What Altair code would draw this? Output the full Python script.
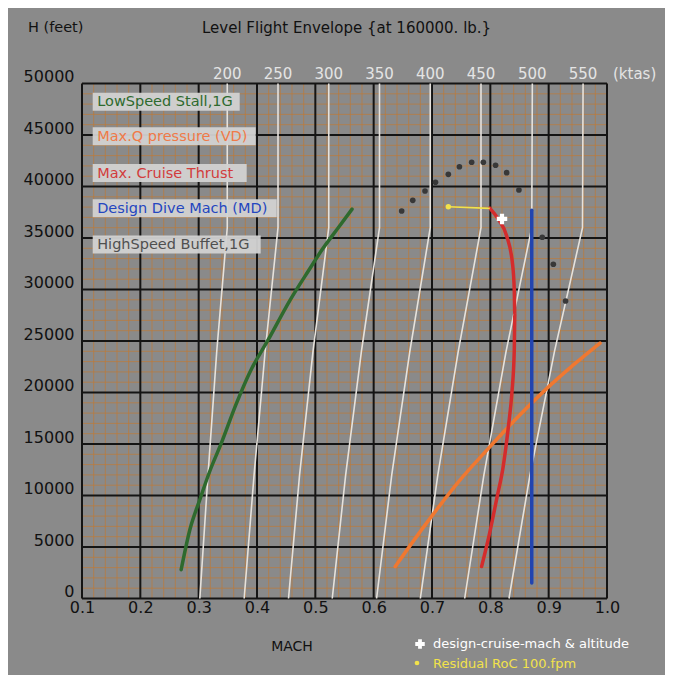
import altair as alt
import pandas as pd

# ---------------- data ----------------
title_text = "Level Flight Envelope {at 160000. lb.}"
y_title_text = "H (feet)"
x_title_text = "MACH"

mach_ticks = [0.1, 0.2, 0.3, 0.4, 0.5, 0.6, 0.7, 0.8, 0.9, 1.0]
alt_ticks = [0, 5000, 10000, 15000, 20000, 25000, 30000, 35000, 40000, 45000, 50000]

# constant true-airspeed lines (ktas): mach at given altitudes
ktas_values = [200, 250, 300, 350, 400, 450, 500, 550]
ktas_alts = [0, 12000, 24000, 36000, 50000]
ktas_mach = {
    200: [0.302, 0.316, 0.331, 0.349, 0.349],
    250: [0.378, 0.395, 0.414, 0.436, 0.436],
    300: [0.454, 0.473, 0.496, 0.523, 0.523],
    350: [0.529, 0.552, 0.579, 0.610, 0.610],
    400: [0.605, 0.631, 0.662, 0.697, 0.697],
    450: [0.680, 0.710, 0.745, 0.784, 0.784],
    500: [0.756, 0.789, 0.827, 0.871, 0.872],
    550: [0.832, 0.868, 0.910, 0.958, 0.959],
}

stall_mach = [0.270, 0.285, 0.302, 0.320, 0.339, 0.363, 0.388, 0.419, 0.457, 0.488, 0.512, 0.538, 0.563]
stall_alt = [2800, 6700, 9600, 12500, 15100, 18700, 22000, 25100, 29000, 31800, 33900, 35900, 37800]

maxq_mach = [0.637, 0.667, 0.697, 0.745, 0.794, 0.845, 0.897, 0.945, 0.988]
maxq_alt = [3100, 5500, 7800, 11300, 14400, 17500, 20400, 22800, 24800]

thrust_mach = [0.785, 0.799, 0.811, 0.822, 0.831, 0.837, 0.841, 0.842, 0.841, 0.838, 0.828, 0.814, 0.799]
thrust_alt = [3100, 6400, 9700, 12800, 16700, 20000, 24000, 27500, 30000, 32500, 35200, 36800, 37900]

dive_mach = [0.871, 0.871]
dive_alt = [1500, 37700]

buffet_mach = [0.648, 0.667, 0.688, 0.706, 0.728, 0.747, 0.768, 0.788, 0.809, 0.828, 0.849, 0.889, 0.908, 0.929]
buffet_alt = [37620, 38660, 39560, 40410, 41180, 41920, 42350, 42350, 42060, 41340, 39660, 35070, 32450, 28880]

roc_mach = [0.728, 0.799]
roc_alt = [38040, 37880]

cruise_mach = [0.820]
cruise_alt = [36850]

legend_labels = ["LowSpeed Stall,1G", "Max.Q pressure (VD)", "Max. Cruise Thrust",
                 "Design Dive Mach (MD)", "HighSpeed Buffet,1G"]
legend_colors = ["#2e6a2e", "#f07a48", "#d23c3c", "#2446c0", "#505050"]
bottom_labels = ["design-cruise-mach & altitude", "Residual RoC 100.fpm"]

# ---------------- styling ----------------
FONT = "DejaVu Sans"
BG = "#8a8a8a"
W, H = 525, 515

xs = alt.Scale(domain=[0.1, 1.0], nice=False, zero=False)
ys = alt.Scale(domain=[0, 50000], nice=False, zero=False)

XAXIS = alt.Axis(values=mach_ticks, format=".1f", title=None, grid=False, ticks=False,
                 domain=False, labelFontSize=16, labelColor="#111111", labelFont=FONT,
                 labelPadding=1, labelFlush=False, labelOverlap=False)
YAXIS = alt.Axis(values=alt_ticks, format="d", title=None, grid=False, ticks=False,
                 domain=False, labelFontSize=16, labelColor="#111111", labelFont=FONT,
                 labelPadding=8, labelBaseline="alphabetic", labelOffset=-2, labelOverlap=False)

minor_x = [round(0.1 + 0.02 * i, 3) for i in range(46)]
minor_y = [1000 * i for i in range(51)]


def df_line(mach, altv):
    return pd.DataFrame({"mach": mach, "alt": altv, "i": list(range(len(mach)))})


X = lambda: alt.X("mach:Q", scale=xs, axis=XAXIS)
Y = lambda: alt.Y("alt:Q", scale=ys, axis=YAXIS)

layers = []

# minor grid
layers.append(alt.Chart(pd.DataFrame({"mach": minor_x})).mark_rule(color="#c27a32", strokeWidth=1, opacity=0.65)
              .encode(x=X()))
layers.append(alt.Chart(pd.DataFrame({"alt": minor_y})).mark_rule(color="#c27a32", strokeWidth=1, opacity=0.65)
              .encode(y=Y()))
# major grid
layers.append(alt.Chart(pd.DataFrame({"mach": mach_ticks})).mark_rule(color="#141414", strokeWidth=2).encode(x=X()))
layers.append(alt.Chart(pd.DataFrame({"alt": alt_ticks})).mark_rule(color="#141414", strokeWidth=2).encode(y=Y()))

# ktas lines
rows = []
for k in ktas_values:
    for j, (m, a) in enumerate(zip(ktas_mach[k], ktas_alts)):
        rows.append({"ktas": k, "mach": m, "alt": a, "i": j})
ktas_df = pd.DataFrame(rows)
layers.append(alt.Chart(ktas_df).mark_line(color="#e6e2dc", strokeWidth=1.6)
              .encode(x=X(), y=Y(), detail="ktas:N", order="i:Q"))
ktas_lab = pd.DataFrame({"ktas": [str(k) for k in ktas_values], "mach": [ktas_mach[k][-1] for k in ktas_values]})
layers.append(alt.Chart(ktas_lab).mark_text(font=FONT, fontSize=15, color="#e4e4e4", baseline="middle")
              .encode(x=X(), y=alt.value(-9.5), text="ktas:N"))
layers.append(alt.Chart(pd.DataFrame({"t": ["(ktas)"]})).mark_text(font=FONT, fontSize=15, color="#e4e4e4",
                                                                    align="left", baseline="middle")
              .encode(x=alt.value(531), y=alt.value(-9.5), text="t:N"))

# curves
for mach, altv, col in [(stall_mach, stall_alt, legend_colors[0]),
                        (maxq_mach, maxq_alt, "#f07830"),
                        (thrust_mach, thrust_alt, "#d42c2c"),
                        (dive_mach, dive_alt, "#2244b0")]:
    layers.append(alt.Chart(df_line(mach, altv)).mark_line(color=col, strokeWidth=3.5, strokeCap="round",
                                                           strokeJoin="round", interpolate="monotone")
                  .encode(x=X(), y=Y(), order="i:Q"))

# buffet dots
layers.append(alt.Chart(df_line(buffet_mach, buffet_alt)).mark_circle(color="#383838", size=32, opacity=1)
              .encode(x=X(), y=Y()))
# residual RoC
layers.append(alt.Chart(df_line(roc_mach, roc_alt)).mark_line(color="#f2e24a", strokeWidth=1.6)
              .encode(x=X(), y=Y(), order="i:Q"))
layers.append(alt.Chart(df_line(roc_mach[:1], roc_alt[:1])).mark_circle(color="#f2e24a", size=30, opacity=1)
              .encode(x=X(), y=Y()))
# design cruise point
layers.append(alt.Chart(df_line(cruise_mach, cruise_alt)).mark_point(shape="cross", filled=True, color="white",
                                                                     size=110, opacity=1)
              .encode(x=X(), y=Y()))

# legend boxes (top-left)
box_left = 10.7
box_w = [147, 163, 154, 184, 168]
box_cy = [18.2, 52.8, 89.5, 124.8, 161.0]
for lab, col, w, cy in zip(legend_labels, legend_colors, box_w, box_cy):
    d = pd.DataFrame({"t": [lab]})
    layers.append(alt.Chart(d).mark_rect(color="#d2d2d2", opacity=0.95)
                  .encode(x=alt.value(box_left), x2=alt.value(box_left + w),
                          y=alt.value(cy - 9), y2=alt.value(cy + 9)))
    layers.append(alt.Chart(d).mark_text(font=FONT, fontSize=14.5, color=col, align="left", baseline="middle")
                  .encode(x=alt.value(box_left + 4.5), y=alt.value(cy + 0.5), text="t:N"))

# titles
layers.append(alt.Chart(pd.DataFrame({"t": [y_title_text]})).mark_text(font=FONT, fontSize=14.5, color="#111111",
                                                                         align="left", baseline="middle")
              .encode(x=alt.value(-54), y=alt.value(-55.5), text="t:N"))
layers.append(alt.Chart(pd.DataFrame({"t": [title_text]})).mark_text(font=FONT, fontSize=15, color="#111111",
                                                                       align="left", baseline="middle")
              .encode(x=alt.value(120), y=alt.value(-55.5), text="t:N"))
layers.append(alt.Chart(pd.DataFrame({"t": [x_title_text]})).mark_text(font=FONT, fontSize=14, color="#111111",
                                                                        align="center", baseline="middle")
              .encode(x=alt.value(210), y=alt.value(563.5), text="t:N"))

# bottom legend
layers.append(alt.Chart(pd.DataFrame({"t": [bottom_labels[0]]})).mark_point(shape="cross", filled=True,
                                                                             color="white", size=90, opacity=1)
              .encode(x=alt.value(338), y=alt.value(560.5)))
layers.append(alt.Chart(pd.DataFrame({"t": [bottom_labels[0]]})).mark_text(font=FONT, fontSize=13, color="white",
                                                                            align="left", baseline="middle")
              .encode(x=alt.value(351), y=alt.value(560.5), text="t:N"))
layers.append(alt.Chart(pd.DataFrame({"t": [bottom_labels[1]]})).mark_circle(color="#f2e24a", size=22, opacity=1)
              .encode(x=alt.value(335), y=alt.value(579.5)))
layers.append(alt.Chart(pd.DataFrame({"t": [bottom_labels[1]]})).mark_text(font=FONT, fontSize=13, color="#f2e24a",
                                                                            align="left", baseline="middle")
              .encode(x=alt.value(351), y=alt.value(580.5), text="t:N"))

chart = alt.layer(*layers).properties(
    width=W, height=H,
    autosize=alt.AutoSizeParams(type="none"),
    padding={"left": 74, "top": 75.5, "right": 58, "bottom": 76},
).configure(background=BG).configure_view(stroke=None, fill=BG)

chart.save("out.html", embed_options={"renderer": "svg", "actions": False})
